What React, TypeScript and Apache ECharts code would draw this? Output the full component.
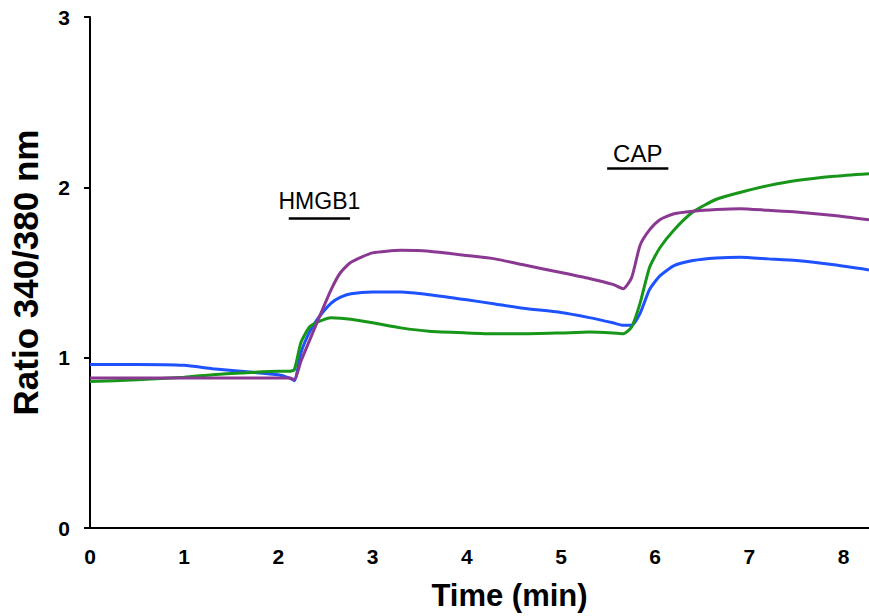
import React, { useEffect, useRef } from "react";
import * as echarts from "echarts";

const times = [0, 0.5, 1.0, 1.3, 1.6, 2.0, 2.12, 2.17, 2.24, 2.33, 2.42, 2.56, 2.66, 2.77, 3.0, 3.3, 3.6, 4.0, 4.3, 4.6, 5.0, 5.3, 5.55, 5.66, 5.75, 5.84, 5.94, 6.05, 6.2, 6.4, 6.65, 6.9, 7.2, 7.5, 7.9, 8.27];
const blue = [0.96, 0.96, 0.955, 0.935, 0.92, 0.9, 0.88, 0.865, 1.03, 1.15, 1.23, 1.32, 1.355, 1.375, 1.385, 1.385, 1.37, 1.34, 1.315, 1.29, 1.265, 1.235, 1.205, 1.19, 1.19, 1.26, 1.4, 1.48, 1.54, 1.57, 1.585, 1.59, 1.58, 1.57, 1.545, 1.515];
const green = [0.86, 0.87, 0.885, 0.9, 0.91, 0.92, 0.92, 0.93, 1.09, 1.18, 1.21, 1.235, 1.232, 1.225, 1.205, 1.175, 1.155, 1.145, 1.14, 1.14, 1.145, 1.15, 1.145, 1.14, 1.18, 1.32, 1.53, 1.645, 1.75, 1.855, 1.93, 1.97, 2.01, 2.04, 2.065, 2.08];
const purple = [0.88, 0.88, 0.88, 0.88, 0.88, 0.88, 0.88, 0.87, 0.98, 1.1, 1.22, 1.4, 1.5, 1.56, 1.615, 1.63, 1.625, 1.6, 1.58, 1.545, 1.5, 1.465, 1.43, 1.405, 1.47, 1.66, 1.75, 1.81, 1.845, 1.86, 1.87, 1.875, 1.865, 1.855, 1.835, 1.81];
const yTicks = [0, 1, 2, 3];
const annotations = [
  { label: "HMGB1", x0: 2.11, x1: 2.76, y: 1.818, size: 23, distance: 6 },
  { label: "CAP", x0: 5.49, x1: 6.14, y: 2.11, size: 24, distance: 3 },
];

const FONT = "'Liberation Sans', Arial, sans-serif";

export default function App() {
  const ref = useRef<HTMLDivElement>(null);
  useEffect(() => {
    if (!ref.current) return;
    const chart = echarts.init(ref.current, undefined, { renderer: "svg" });
    const mk = (vals: number[]) => times.map((t, i) => [t, vals[i]]);
    const lineSeries = (name: string, vals: number[], color: string, extra: any = {}) => ({
      type: "line",
      name,
      data: mk(vals),
      showSymbol: false,
      symbol: "none",
      smooth: 0.2,
      lineStyle: { color, width: 3 },
      itemStyle: { color },
      z: 3,
      ...extra,
    });
    chart.setOption({
      animation: false,
      backgroundColor: "#ffffff",
      grid: { left: 87, right: 0, top: 17, bottom: 88, containLabel: false },
      xAxis: {
        type: "value",
        min: 0,
        max: 8.27,
        interval: 1,
        name: "Time (min)",
        nameLocation: "middle",
        nameGap: 52,
        nameTextStyle: { fontFamily: FONT, fontWeight: "bold", fontSize: 31, color: "#000", padding: [0, 0, 0, 60] },
        axisLine: { lineStyle: { color: "#000", width: 2 } },
        axisTick: { show: false },
        splitLine: { show: false },
        axisLabel: {
          fontFamily: FONT,
          fontWeight: "bold",
          fontSize: 21,
          color: "#000",
          margin: 18,
          showMaxLabel: false,
          formatter: (v: number) => (Number.isInteger(v) ? String(v) : ""),
        },
      },
      yAxis: {
        type: "value",
        min: yTicks[0],
        max: yTicks[yTicks.length - 1],
        interval: 1,
        name: "Ratio 340/380 nm",
        nameLocation: "middle",
        nameGap: 47,
        nameTextStyle: { fontFamily: FONT, fontWeight: "bold", fontSize: 35, color: "#000" },
        axisLine: { show: true, lineStyle: { color: "#000", width: 2 } },
        axisTick: { show: true, length: 6, lineStyle: { color: "#000", width: 2 } },
        splitLine: { show: false },
        axisLabel: { fontFamily: FONT, fontWeight: "bold", fontSize: 21, color: "#000", margin: 20 },
      },
      series: [
        lineSeries("Blue", blue, "#1f52ff", {
          markLine: {
            silent: true,
            symbol: "none",
            animation: false,
            lineStyle: { color: "#000", width: 2.5, type: "solid" },
            data: annotations.map((a) => [
              {
                coord: [a.x0, a.y],
                label: {
                  show: true,
                  formatter: a.label,
                  position: "middle",
                  distance: a.distance,
                  fontFamily: FONT,
                  fontSize: a.size,
                  color: "#000",
                },
              },
              { coord: [a.x1, a.y] },
            ]),
          },
        }),
        lineSeries("Green", green, "#17961a"),
        lineSeries("Purple", purple, "#8a3891"),
      ],
    });
    return () => chart.dispose();
  }, []);
  return <div ref={ref} style={{ width: 869, height: 616, position: "absolute", left: 0, top: 0 }} />;
}
